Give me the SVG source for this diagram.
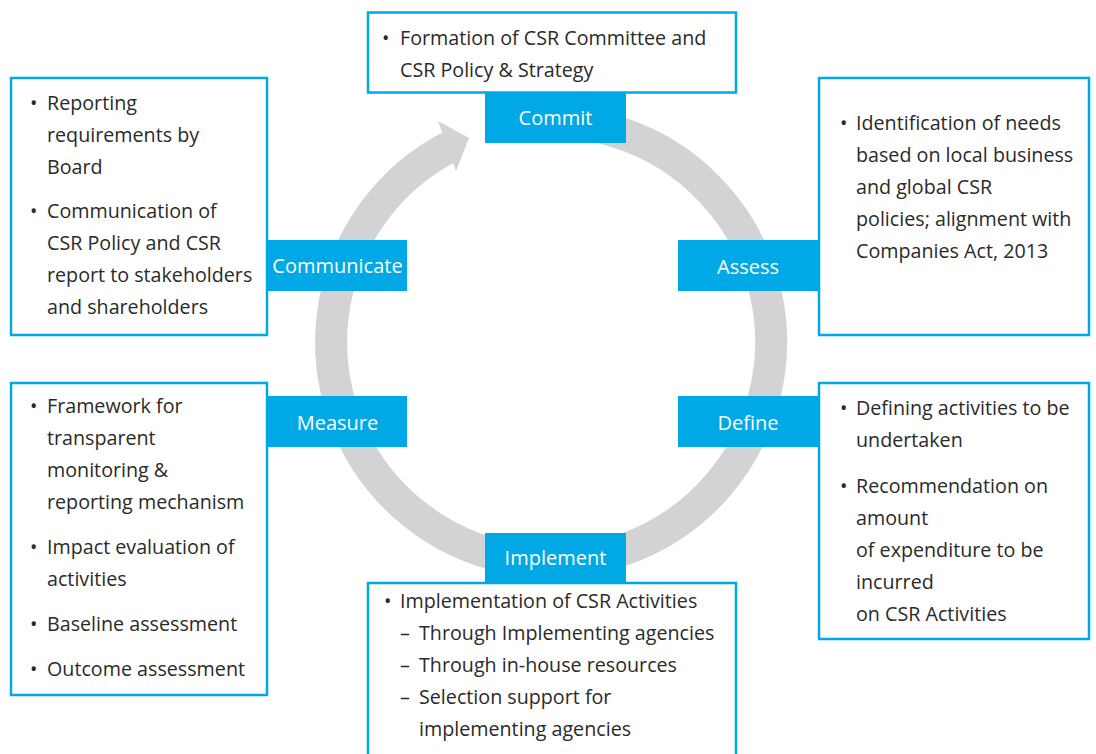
<svg xmlns="http://www.w3.org/2000/svg" width="1096" height="754" viewBox="0 0 1096 754">
<style>
.box{fill:#fff;stroke:#00a9e6;stroke-width:2.5}
.lab{fill:#00a9e6}
.lt{font-family:"Open Sans","Liberation Sans",sans-serif;font-size:20px;fill:#fff;text-anchor:middle}
.t{font-family:"Open Sans","Liberation Sans",sans-serif;font-size:19.7px;fill:#2a2a2a}
.ring{fill:none;stroke:#d3d3d5;stroke-width:32}
</style>
<rect width="1096" height="754" fill="#fff"/>
<g id="connectors">
<path class="ring" d="M512.8 125.3 A220 220 0 1 1 451.1 146.0"/>
<polygon points="438,121 469,138 456,171" fill="#d3d3d5"/>
</g>
<g id="commit">
<rect class="box" x="368" y="12.5" width="368" height="80"/>
<rect class="lab" x="485" y="93" width="141" height="50"/>
<text class="lt" x="555.5" y="125">Commit</text>
<text class="t" x="382" y="45">•</text>
<text class="t" x="400" y="45">Formation of CSR Committee and</text>
<text class="t" x="400" y="77">CSR Policy &amp; Strategy</text>
</g>
<g id="assess">
<rect class="box" x="819" y="78" width="270" height="257"/>
<rect class="lab" x="678" y="240" width="140" height="51"/>
<text class="lt" x="748" y="274">Assess</text>
<text class="t" x="840" y="130">•</text>
<text class="t" x="856" y="130">Identification of needs</text>
<text class="t" x="856" y="162">based on local business</text>
<text class="t" x="856" y="194">and global CSR</text>
<text class="t" x="856" y="226">policies; alignment with</text>
<text class="t" x="856" y="258">Companies Act, 2013</text>
</g>
<g id="define">
<rect class="box" x="819" y="383" width="270" height="256"/>
<rect class="lab" x="678" y="396" width="140" height="51"/>
<text class="lt" x="748" y="430">Define</text>
<text class="t" x="840" y="415">•</text>
<text class="t" x="856" y="415">Defining activities to be</text>
<text class="t" x="856" y="447">undertaken</text>
<text class="t" x="840" y="493">•</text>
<text class="t" x="856" y="493">Recommendation on</text>
<text class="t" x="856" y="525">amount</text>
<text class="t" x="856" y="557">of expenditure to be</text>
<text class="t" x="856" y="589">incurred</text>
<text class="t" x="856" y="621">on CSR Activities</text>
</g>
<g id="implement">
<rect class="box" x="368" y="583" width="368" height="190"/>
<rect class="lab" x="485" y="533" width="141" height="49"/>
<text class="lt" x="555.5" y="565">Implement</text>
<text class="t" x="384" y="608">•</text>
<text class="t" x="400" y="608">Implementation of CSR Activities</text>
<text class="t" x="400" y="640">–</text>
<text class="t" x="419" y="640">Through Implementing agencies</text>
<text class="t" x="400" y="672">–</text>
<text class="t" x="419" y="672">Through in-house resources</text>
<text class="t" x="400" y="704">–</text>
<text class="t" x="419" y="704">Selection support for</text>
<text class="t" x="419" y="736">implementing agencies</text>
</g>
<g id="measure">
<rect class="box" x="11" y="383" width="256" height="312"/>
<rect class="lab" x="268" y="396" width="139" height="51"/>
<text class="lt" x="337.5" y="430">Measure</text>
<text class="t" x="30" y="413">•</text>
<text class="t" x="47" y="413">Framework for</text>
<text class="t" x="47" y="445">transparent</text>
<text class="t" x="47" y="477">monitoring &amp;</text>
<text class="t" x="47" y="509">reporting mechanism</text>
<text class="t" x="30" y="554">•</text>
<text class="t" x="47" y="554">Impact evaluation of</text>
<text class="t" x="47" y="586">activities</text>
<text class="t" x="30" y="631">•</text>
<text class="t" x="47" y="631">Baseline assessment</text>
<text class="t" x="30" y="676">•</text>
<text class="t" x="47" y="676">Outcome assessment</text>
</g>
<g id="communicate">
<rect class="box" x="11" y="78" width="256" height="257"/>
<rect class="lab" x="268" y="240" width="139" height="51"/>
<text class="lt" x="337.5" y="273">Communicate</text>
<text class="t" x="30" y="110">•</text>
<text class="t" x="47" y="110">Reporting</text>
<text class="t" x="47" y="142">requirements by</text>
<text class="t" x="47" y="174">Board</text>
<text class="t" x="30" y="218">•</text>
<text class="t" x="47" y="218">Communication of</text>
<text class="t" x="47" y="250">CSR Policy and CSR</text>
<text class="t" x="47" y="282">report to stakeholders</text>
<text class="t" x="47" y="314">and shareholders</text>
</g>
</svg>
